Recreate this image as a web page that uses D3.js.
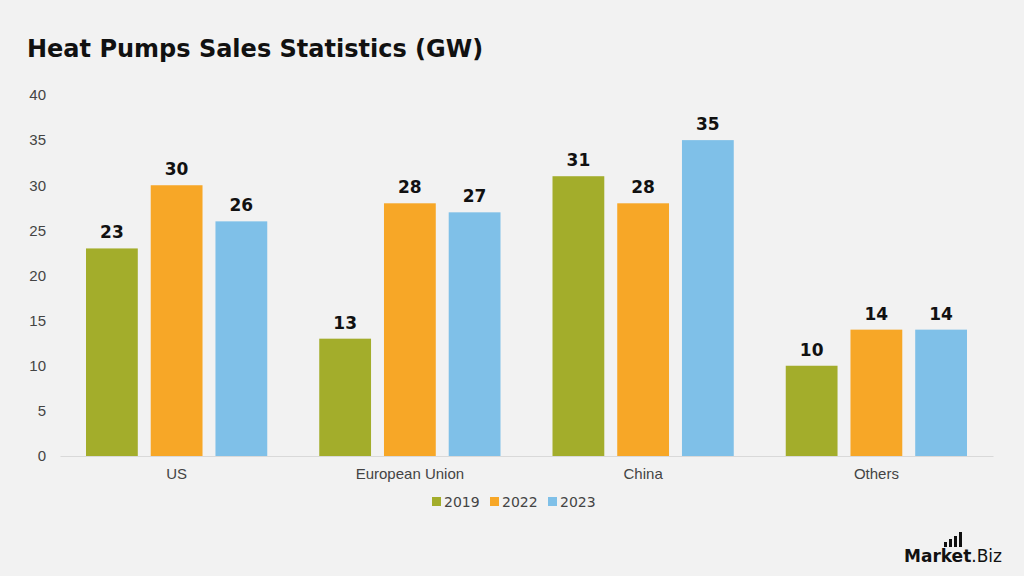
<!DOCTYPE html>
<html>
<head>
<meta charset="utf-8">
<script src="https://cdn.jsdelivr.net/npm/d3@7"></script>
<style>
  body { margin: 0; background: #f2f2f2; }
  svg { display: block; font-family: "DejaVu Sans", "Open Sans", sans-serif; }
</style>
</head>
<body>
<div class="chart"></div>
<script>
// data
var categories = ["US", "European Union", "China", "Others"];
var seriesNames = ["2019", "2022", "2023"];
var values2019 = [23, 13, 31, 10];
var values2022 = [30, 28, 28, 14];
var values2023 = [26, 27, 35, 14];
var yTicks = [0, 5, 10, 15, 20, 25, 30, 35, 40];
var colors = ["#a3ad2b", "#f7a727", "#7fc0e8"];

var widthSVG = 1024;
var heightSVG = 576;
var margins = { top: 95, right: 31, bottom: 120, left: 60 };
var width = widthSVG - margins.left - margins.right;
var height = heightSVG - margins.top - margins.bottom;

var svg = d3.select(".chart")
  .append("svg")
  .attr("width", widthSVG)
  .attr("height", heightSVG);

svg.append("rect")
  .attr("width", widthSVG)
  .attr("height", heightSVG)
  .attr("fill", "#f2f2f2");

// title
svg.append("text")
  .attr("x", 27)
  .attr("y", 57)
  .attr("font-size", 24)
  .attr("font-weight", "bold")
  .attr("fill", "#111")
  .text("Heat Pumps Sales Statistics (GW)");

var chart = svg.append("g")
  .attr("transform", `translate(${margins.left}, ${margins.top})`);

var rows = categories.map((c, i) => ({
  category: c,
  values: [values2019[i], values2022[i], values2023[i]]
}));

var x0 = d3.scaleBand()
  .domain(categories)
  .range([0, width])
  .paddingInner(0)
  .paddingOuter(0);

var x1 = d3.scaleBand()
  .domain(seriesNames)
  .range([26, x0.bandwidth() - 26])
  .paddingInner(0.2);

var y = d3.scaleLinear()
  .domain([0, 40])
  .range([height, 0]);

// y axis labels only
var leftAxis = d3.axisLeft(y).tickValues(yTicks).tickSize(0).tickPadding(14);
var yAxis = chart.append("g").call(leftAxis);
yAxis.select(".domain").remove();
yAxis.selectAll("text")
  .attr("font-size", 15)
  .attr("fill", "#444");

// bars
var groups = chart.selectAll(".group")
  .data(rows)
  .enter()
  .append("g")
  .attr("class", "group")
  .attr("transform", d => `translate(${x0(d.category)}, 0)`);

groups.selectAll("rect")
  .data(d => d.values.map((v, i) => ({ key: seriesNames[i], value: v, i: i })))
  .enter()
  .append("rect")
  .attr("x", d => x1(d.key))
  .attr("y", d => y(d.value))
  .attr("width", x1.bandwidth())
  .attr("height", d => height - y(d.value))
  .attr("fill", d => colors[d.i]);

groups.selectAll(".val")
  .data(d => d.values.map((v, i) => ({ key: seriesNames[i], value: v })))
  .enter()
  .append("text")
  .attr("class", "val")
  .attr("x", d => x1(d.key) + x1.bandwidth() / 2)
  .attr("y", d => y(d.value) - 10)
  .attr("text-anchor", "middle")
  .attr("font-size", 17)
  .attr("font-weight", "bold")
  .attr("fill", "#111")
  .text(d => d.value);

// x axis
var bottomAxis = d3.axisBottom(x0).tickSize(0).tickPadding(12);
var xAxis = chart.append("g")
  .attr("transform", `translate(0, ${height})`)
  .call(bottomAxis);
xAxis.select(".domain").attr("stroke", "#d9d9d9");
xAxis.selectAll("text")
  .attr("font-size", 15)
  .attr("fill", "#444");

// legend
var legendX = [432, 490, 548];
var legend = svg.append("g");
seriesNames.forEach(function (s, i) {
  legend.append("rect")
    .attr("x", legendX[i])
    .attr("y", 497)
    .attr("width", 9)
    .attr("height", 9)
    .attr("fill", colors[i]);
  legend.append("text")
    .attr("x", legendX[i] + 12)
    .attr("y", 507)
    .attr("font-size", 14)
    .attr("fill", "#444")
    .text(s);
});

// watermark
var mark = svg.append("g");
var markText = mark.append("text")
  .attr("x", 904)
  .attr("y", 562)
  .attr("font-size", 17)
  .attr("fill", "#111");
markText.append("tspan").attr("font-weight", "bold").text("Market");
markText.append("tspan").text(".Biz");
[[944, 5], [949, 8], [954, 11], [959, 15]].forEach(function (b) {
  mark.append("rect")
    .attr("x", b[0])
    .attr("y", 547 - b[1])
    .attr("width", 3)
    .attr("height", b[1])
    .attr("fill", "#111");
});
</script>
</body>
</html>
